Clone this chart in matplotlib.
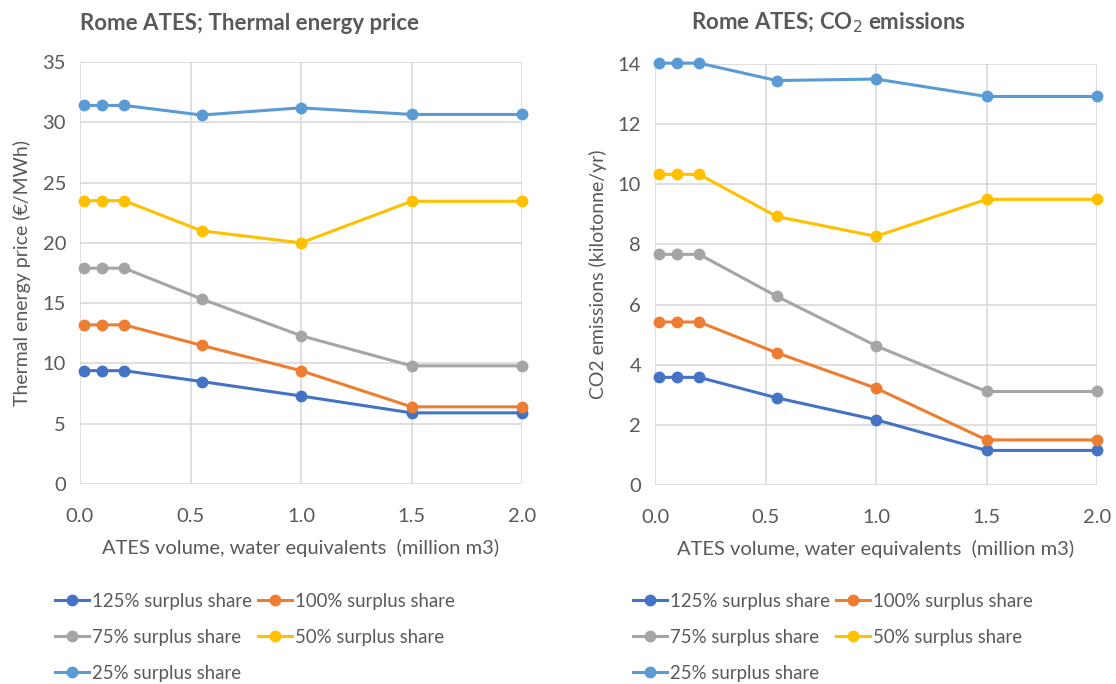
import matplotlib.pyplot as plt
from matplotlib.ticker import FormatStrFormatter

plt.rcParams["font.family"] = ["Lato", "DejaVu Sans"]

# ATES volume (million m3)
volume = [0.02, 0.1, 0.2, 0.55, 1.0, 1.5, 2.0]

series_names = ["125% surplus share", "100% surplus share", "75% surplus share",
                "50% surplus share", "25% surplus share"]
colors = ["#4472C4", "#ED7D31", "#A5A5A5", "#FFC000", "#5B9BD5"]

# Thermal energy price (EUR/MWh)
price_125 = [9.4, 9.4, 9.4, 8.5, 7.3, 5.9, 5.9]
price_100 = [13.2, 13.2, 13.2, 11.5, 9.4, 6.4, 6.4]
price_75 = [17.9, 17.9, 17.9, 15.35, 12.3, 9.8, 9.8]
price_50 = [23.5, 23.5, 23.5, 21.0, 20.0, 23.45, 23.45]
price_25 = [31.4, 31.4, 31.4, 30.6, 31.2, 30.65, 30.65]

# CO2 emissions (kilotonne/yr)
co2_125 = [3.58, 3.58, 3.58, 2.9, 2.17, 1.15, 1.15]
co2_100 = [5.42, 5.42, 5.42, 4.4, 3.22, 1.5, 1.5]
co2_75 = [7.67, 7.67, 7.67, 6.28, 4.63, 3.11, 3.11]
co2_50 = [10.33, 10.33, 10.33, 8.93, 8.27, 9.5, 9.5]
co2_25 = [14.03, 14.03, 14.03, 13.45, 13.5, 12.92, 12.92]

TXT = "#595959"
GRID = "#D9D9D9"
FS = 14.5
LEG_FS = 13.4

fig = plt.figure(figsize=(11.16, 6.84), dpi=100)
ax1 = fig.add_axes([80 / 1116, 200 / 684, 442 / 1116, 422 / 684])
ax2 = fig.add_axes([655 / 1116, 199 / 684, 442 / 1116, 421 / 684])


def draw(ax, data, ymax, ystep, ylabel, title, title_x, legend_x):
    handles = []
    for vals, name, c in zip(data, series_names, colors):
        (ln,) = ax.plot(volume, vals, color=c, lw=2.2, marker="o", ms=7.5,
                        label=name, clip_on=False, zorder=3)
        handles.append(ln)
    ax.set_xlim(0, 2.0)
    ax.set_ylim(0, ymax)
    ax.set_xticks([0, 0.5, 1.0, 1.5, 2.0])
    ax.set_yticks(range(0, ymax + 1, ystep))
    ax.xaxis.set_major_formatter(FormatStrFormatter("%.1f"))
    ax.grid(True, color=GRID, lw=1.2, zorder=0)
    for s in ax.spines.values():
        s.set_visible(False)
    ax.tick_params(length=0, labelsize=FS, colors=TXT, pad=10)
    ax.tick_params(axis="x", pad=17)
    ax.set_ylabel(ylabel, fontsize=FS - 0.5, color=TXT, labelpad=8)
    ax.set_xlabel("ATES volume, water equivalents  (million m3)", fontsize=FS,
                  color=TXT, labelpad=10)
    fig.text(title_x, 1 - 23 / 684, title, ha="center", va="center",
             fontsize=16, fontweight="bold", color=TXT)
    # reorder so the two-column legend reads row by row
    order = [0, 2, 4, 1, 3]
    leg = fig.legend([handles[i] for i in order], [series_names[i] for i in order],
                     ncol=2, loc="upper left", bbox_to_anchor=(legend_x, 1 - 593 / 684),
                     frameon=False, fontsize=LEG_FS, handlelength=1.85,
                     handletextpad=0.15, columnspacing=0.3, labelspacing=1.02,
                     borderaxespad=0, borderpad=0)
    for t in leg.get_texts():
        t.set_color(TXT)


draw(ax1, [price_125, price_100, price_75, price_50, price_25], 35, 5,
     "Thermal energy price (€/MWh)", "Rome ATES; Thermal energy price",
     250 / 1116, 55 / 1116)
draw(ax2, [co2_125, co2_100, co2_75, co2_50, co2_25], 14, 2,
     "CO2 emissions (kilotonne/yr)", "Rome ATES; CO$_2$ emissions",
     828 / 1116, 633 / 1116)

fig.savefig("out.png", dpi=100)
